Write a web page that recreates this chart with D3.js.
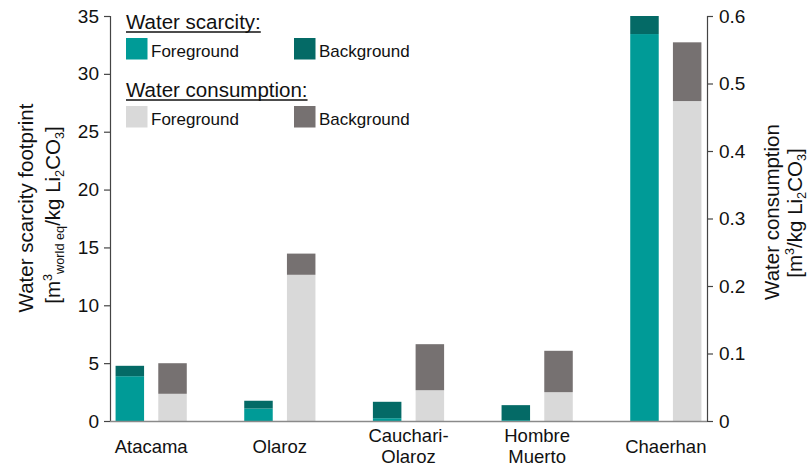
<!DOCTYPE html>
<html>
<head>
<meta charset="utf-8">
<script src="https://cdn.jsdelivr.net/npm/d3@7"></script>
<style>
  html, body { margin: 0; padding: 0; background: #fff; }
  svg { display: block; font-family: "Liberation Sans", Arial, sans-serif; }
</style>
</head>
<body>
<svg id="chart" width="810" height="466"></svg>
<script>
// Lithium brine sites
const sites = ["Atacama", "Olaroz", "Cauchari-Olaroz", "Hombre Muerto", "Chaerhan"];
const siteLabels = [["Atacama"], ["Olaroz"], ["Cauchari-", "Olaroz"], ["Hombre", "Muerto"], ["Chaerhan"]];

// Water scarcity footprint [m3 world eq / kg Li2CO3]
const scarcityForeground = [3.87, 1.08, 0.24, 0.08, 33.44];
const scarcityBackground = [0.90, 0.67, 1.42, 1.29, 1.56];

// Water consumption [m3 / kg Li2CO3]
const consumptionForeground = [0.0403, 0.2166, 0.0456, 0.0427, 0.474];
const consumptionBackground = [0.0453, 0.0314, 0.0682, 0.0613, 0.087];

const scarcityTicks = [0, 5, 10, 15, 20, 25, 30, 35];
const consumptionTicks = [0, 0.1, 0.2, 0.3, 0.4, 0.5, 0.6];

const colors = {
  scarcityFg: "#009b97",
  scarcityBg: "#046a66",
  consumptionFg: "#d9d9d9",
  consumptionBg: "#767171"
};

const svg = d3.select("#chart");
const plotLeft = 110, plotRight = 707, plotTop = 16, plotBottom = 421;

const x = d3.scalePoint().domain(sites).range([plotLeft, plotRight]).padding(0.32);
const yS = d3.scaleLinear().domain([0, 35]).range([plotBottom, plotTop]);
const yC = d3.scaleLinear().domain([0, 0.6]).range([plotBottom, plotTop]);

const barW = 28.5, gap = 14.2;

// stacked bars
function drawStack(fg, bg, y, xOffset, cFg, cBg, cls) {
  const rows = sites.map((s, i) => ({ site: s, fg: fg[i], bg: bg[i] }));
  const g = svg.append("g").attr("class", cls);
  g.selectAll("rect.fg").data(rows).join("rect")
    .attr("class", "fg")
    .attr("x", d => x(d.site) + xOffset)
    .attr("width", barW)
    .attr("y", d => y(d.fg))
    .attr("height", d => y(0) - y(d.fg))
    .attr("fill", cFg);
  g.selectAll("rect.bg").data(rows).join("rect")
    .attr("class", "bg")
    .attr("x", d => x(d.site) + xOffset)
    .attr("width", barW)
    .attr("y", d => y(d.fg + d.bg))
    .attr("height", d => y(d.fg) - y(d.fg + d.bg))
    .attr("fill", cBg);
}
drawStack(scarcityForeground, scarcityBackground, yS, -gap / 2 - barW, colors.scarcityFg, colors.scarcityBg, "scarcity");
drawStack(consumptionForeground, consumptionBackground, yC, gap / 2, colors.consumptionFg, colors.consumptionBg, "consumption");

// axes
const axisColor = "#444";
const leftAxis = svg.append("g").attr("transform", `translate(${plotLeft},0)`)
  .call(d3.axisLeft(yS).tickValues(scarcityTicks).tickSize(6).tickPadding(5).tickFormat(d3.format("d")));
const rightAxis = svg.append("g").attr("transform", `translate(${plotRight},0)`)
  .call(d3.axisRight(yC).tickValues(consumptionTicks).tickSize(6).tickPadding(6)
    .tickFormat(d => d === 0 ? "0" : d3.format(".1f")(d)));
[leftAxis, rightAxis].forEach(a => {
  a.select(".domain").attr("stroke", axisColor).attr("stroke-width", 1.2)
    .attr("d", `M0.5,${plotTop}V${plotBottom}`);
  a.selectAll(".tick line").attr("stroke", axisColor).attr("stroke-width", 1.2);
  a.selectAll(".tick text").attr("fill", "#111").attr("font-size", 19)
    .attr("font-family", "'Liberation Sans', Arial, sans-serif");
});

// baseline
svg.append("line")
  .attr("x1", plotLeft).attr("x2", plotRight)
  .attr("y1", plotBottom + 0.5).attr("y2", plotBottom + 0.5)
  .attr("stroke", "#8a8a8a").attr("stroke-width", 1.5);

// category labels
const xl = svg.append("g").attr("font-size", 18.5).attr("fill", "#111").attr("text-anchor", "middle");
sites.forEach((s, i) => {
  const lines = siteLabels[i];
  if (lines.length === 1) {
    xl.append("text").attr("x", x(s)).attr("y", 453).text(lines[0]);
  } else {
    xl.append("text").attr("x", x(s)).attr("y", 442).text(lines[0]);
    xl.append("text").attr("x", x(s)).attr("y", 463).text(lines[1]);
  }
});

// axis titles
const titleSize = 20.5;
function subSup(textSel, parts) {
  parts.forEach(p => {
    const ts = textSel.append("tspan").text(p.t);
    if (p.s === "sup") ts.attr("font-size", titleSize * 0.62).attr("dy", -8);
    else if (p.s === "sub") ts.attr("font-size", titleSize * 0.62).attr("dy", p.dy != null ? p.dy : 4);
    else if (p.dy != null) ts.attr("dy", p.dy);
  });
}
svg.append("text").attr("transform", "translate(33,208) rotate(-90)")
  .attr("text-anchor", "middle").attr("font-size", titleSize).attr("fill", "#111")
  .text("Water scarcity footprint");
const lt2 = svg.append("text").attr("transform", "translate(60,215) rotate(-90)")
  .attr("text-anchor", "middle").attr("font-size", titleSize).attr("fill", "#111");
subSup(lt2, [
  { t: "[m" }, { t: "3", s: "sup" }, { t: "world eq", s: "sub", dy: 12 },
  { t: "/kg Li", dy: -4 }, { t: "2", s: "sub" }, { t: "CO", dy: -4 }, { t: "3", s: "sub" }, { t: "]", dy: -4 }
]);

svg.append("text").attr("transform", "translate(779,212) rotate(-90)")
  .attr("text-anchor", "middle").attr("font-size", titleSize).attr("fill", "#111")
  .text("Water consumption");
const rt2 = svg.append("text").attr("transform", "translate(802,213) rotate(-90)")
  .attr("text-anchor", "middle").attr("font-size", titleSize).attr("fill", "#111");
subSup(rt2, [
  { t: "[m" }, { t: "3", s: "sup" }, { t: "/kg Li", dy: 8 }, { t: "2", s: "sub" },
  { t: "CO", dy: -4 }, { t: "3", s: "sub" }, { t: "]", dy: -4 }
]);

// legend
const legend = svg.append("g").attr("fill", "#111");
const legendGroups = [
  { title: "Water scarcity:", y: 29, items: [["Foreground", colors.scarcityFg], ["Background", colors.scarcityBg]] },
  { title: "Water consumption:", y: 97, items: [["Foreground", colors.consumptionFg], ["Background", colors.consumptionBg]] }
];
legendGroups.forEach(gp => {
  const t = legend.append("text").attr("x", 126).attr("y", gp.y).attr("font-size", 20.5).text(gp.title);
  const w = t.node().getComputedTextLength();
  legend.append("line").attr("x1", 126).attr("x2", 126 + w)
    .attr("y1", gp.y + 3).attr("y2", gp.y + 3).attr("stroke", "#111").attr("stroke-width", 1.3);
  gp.items.forEach((it, j) => {
    const sx = j === 0 ? 126 : 294;
    legend.append("rect").attr("x", sx).attr("y", gp.y + 9).attr("width", 21.5).attr("height", 21.5).attr("fill", it[1]);
    legend.append("text").attr("x", sx + 25).attr("y", gp.y + 28).attr("font-size", 17).text(it[0]);
  });
});
</script>
</body>
</html>
